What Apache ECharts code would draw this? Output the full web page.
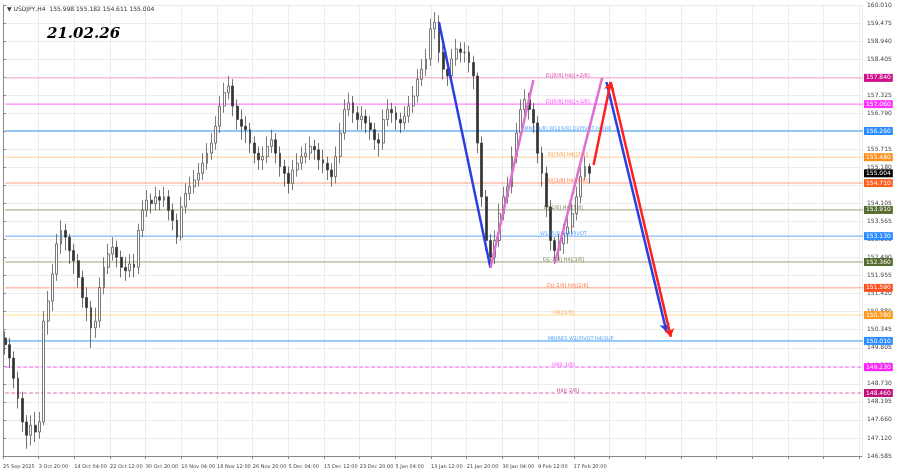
<!DOCTYPE html>
<html><head><meta charset="utf-8">
<script src="https://cdn.jsdelivr.net/npm/echarts@6/dist/echarts.min.js"></script>
<style>html,body{margin:0;padding:0;background:#fff}#c{width:900px;height:474px}</style>
</head><body><div id="c"></div>
<script>
const closes=[149.9,149.5,148.9,148.3,147.6,147.2,147.5,147.3,147.6,150.6,151.2,152.0,152.9,153.3,153.1,152.7,152.4,151.9,151.3,151.0,150.4,150.6,151.6,152.2,152.6,152.8,152.5,152.2,152.1,152.3,152.2,153.3,153.9,154.2,154.1,154.3,154.2,154.3,153.9,153.6,153.1,154.0,154.4,154.6,154.8,155.0,155.3,155.6,155.9,156.4,157.0,157.4,157.6,157.0,156.6,156.4,156.3,155.9,155.6,155.4,155.5,155.8,156.0,155.6,155.2,155.0,154.7,155.1,155.3,155.5,155.6,155.8,155.7,155.4,155.3,155.1,154.9,155.5,156.2,156.9,157.1,156.8,156.6,156.7,156.5,156.3,156.0,155.9,156.6,156.9,156.8,156.6,156.5,156.7,157.0,157.3,157.8,158.1,158.4,159.3,159.5,158.6,158.1,157.9,158.4,158.7,158.6,158.6,158.3,157.9,155.9,154.3,153.0,152.5,153.0,153.8,154.3,154.6,155.5,156.2,156.9,157.2,156.9,156.5,155.6,155.0,154.0,153.0,152.7,152.9,153.2,153.4,153.8,154.3,154.9,155.2,155.0];
const highs=[150.3,150.1,149.7,149.1,148.5,147.8,147.8,147.9,147.9,150.9,151.5,152.3,153.2,153.6,153.5,153.2,152.9,152.6,152.1,151.6,151.2,151.0,151.9,152.5,152.9,153.1,153.0,152.7,152.5,152.6,152.6,153.5,154.2,154.5,154.4,154.6,154.5,154.6,154.5,154.1,153.8,154.3,154.7,154.9,155.1,155.3,155.6,155.9,156.2,156.7,157.3,157.7,157.9,157.8,157.2,156.9,156.7,156.5,156.1,155.8,155.8,156.1,156.3,156.2,155.8,155.4,155.2,155.4,155.6,155.8,155.9,156.1,156.0,155.9,155.7,155.5,155.3,155.8,156.5,157.2,157.4,157.3,157.0,157.0,156.9,156.7,156.5,156.2,156.9,157.2,157.1,157.0,156.8,157.0,157.3,157.6,158.1,158.4,158.7,159.6,159.8,159.7,158.8,158.3,158.7,159.0,158.9,158.9,158.8,158.5,158.0,156.1,154.5,153.2,153.3,154.1,154.6,154.9,155.8,156.5,157.2,157.5,157.4,157.1,156.7,155.8,155.2,154.2,153.1,153.2,153.5,153.7,154.1,154.6,155.2,155.5,155.3];
const lows=[149.6,149.2,148.6,148.0,147.3,146.8,146.9,147.0,147.1,147.5,150.2,150.9,151.8,152.6,152.7,152.3,152.0,151.6,151.0,150.6,149.8,150.1,150.4,151.4,152.0,152.4,152.2,151.9,151.8,151.9,151.9,152.0,153.1,153.7,153.8,153.9,153.9,154.0,153.6,153.3,152.9,153.0,153.8,154.2,154.4,154.6,154.8,155.1,155.4,155.7,156.2,156.8,157.2,156.7,156.3,156.0,155.9,155.6,155.3,155.1,155.1,155.3,155.6,155.3,154.9,154.6,154.4,154.5,154.9,155.1,155.3,155.4,155.4,155.1,155.0,154.8,154.6,154.7,155.3,156.0,156.7,156.5,156.3,156.3,156.2,156.0,155.7,155.5,155.7,156.4,156.5,156.3,156.2,156.3,156.5,156.8,157.1,157.6,157.9,158.2,159.0,158.3,157.8,157.6,157.7,158.2,158.3,158.3,158.0,157.5,155.6,154.0,152.7,152.2,152.3,152.8,153.6,154.1,154.4,155.3,156.0,156.7,156.6,156.2,155.3,154.6,153.7,152.7,152.3,152.4,152.6,152.9,153.2,153.6,154.1,154.8,154.7];
const firstOpen=150.1;
const nCats=200;
const yTickLabels=['146.585','147.120','147.660','148.195','148.730','149.270','149.805','150.345','150.880','151.420','151.955','152.490','153.030','153.565','154.105','154.645','155.180','155.715','156.255','156.790','157.325','157.865','158.405','158.940','159.475','160.010'];
const xTickLabels=['25 Sep 2025','3 Oct 20:00','14 Oct 04:00','22 Oct 12:00','30 Oct 20:00','10 Nov 04:00','18 Nov 12:00','26 Nov 20:00','5 Dec 04:00','15 Dec 12:00','23 Dec 20:00','5 Jan 04:00','13 Jan 12:00','21 Jan 20:00','30 Jan 04:00','9 Feb 12:00','17 Feb 20:00'];
const levelValues=[157.84,157.06,156.26,155.48,154.71,153.91,153.13,152.36,151.59,150.78,150.01,149.23,148.46];
const levelLineColors=['#f5a0d0','#ff66ff','#3399ff','#ffd0a0','#ffa080','#a0a080','#66aaff','#a0a080','#ffa080','#ffd890','#3399ff','#ff66ff','#e070b0'];
const levelTagColors=['#d0108a','#ff33ff','#2a8cff','#ff9020','#ff6020','#556b2f','#2a8cff','#556b2f','#ff5020','#ff9a20','#2a8cff','#ff22ff','#c0107a'];
const levelTexts=['D|[8/8] H4|[+2/8]','D|[6/8] H4|[+1/8]','MN|[-1/8] W1|[6/8] D1PIVOT H4|RE','D|[3/8] H4|[7/8]','D|[2/8] H4|[6/8]','D|[1/8] H4|[5/8]','W1|[5/8] H4|PIVOT','D|[-1/8] H4|[3/8]','D|[-2/8] H4|[2/8]','H4|[1/8]','MN|RES W1|PIVOT H4|SUP','H4|[-1/8]','H4|[-2/8]'];
const levelTextColors=['#d0108a','#ff22ff','#2a8cff','#ff8000','#ff5020','#556b2f','#2a8cff','#556b2f','#ff5020','#ff9a20','#2a8cff','#ff22ff','#c0107a'];
const levelTextCat=[130.6,130.6,130.6,130.6,130.6,130.4,129.6,130.4,130.6,130.4,133.6,130.4,130.6];
const levelDashed=[false,false,false,false,false,false,false,false,false,false,false,true,true];
const lastPrice=155.004;
const blueDown1=[[100.9,159.50],[112.7,152.18]];
const pinkUp1=[[112.5,152.18],[122.9,157.78]];
const pinkUp2=[[127.8,152.33],[138.7,157.84]];
const redUp=[[136.9,155.25],[140.6,157.72]];
const redDown=[[140.6,157.72],[155.4,150.13]];
const blueDown2=[[139.6,157.72],[153.8,150.28]];

const cats=[];for(let i=0;i<nCats;i++)cats.push(i);
const ohlc=closes.map((c,i)=>[i===0?firstOpen:closes[i-1],c,lows[i],highs[i]]);
const yMin=146.585,yMax=160.010,yInt=(yMax-yMin)/25;
const tag=(v,bg)=>({yAxis:v,lineStyle:{color:'rgba(0,0,0,0)',width:0},label:{show:true,position:'end',distance:2,formatter:v.toFixed(3),backgroundColor:bg,color:'#fff',fontSize:6,padding:[1,2],fontFamily:'DejaVu Sans'}});
const tags=levelValues.map((v,i)=>tag(v,levelTagColors[i]));tags.push(tag(lastPrice,'#000'));
function seg(p,color,arrow){return [{coord:p[0],symbol:'none'},{coord:p[1],symbol:arrow?'arrow':'none',symbolSize:8,lineStyle:{color:color,width:2.5,type:'solid'}}];}
const levelSeries=levelValues.map((v,i)=>({type:'line',xAxisIndex:0,silent:true,symbol:'none',z:1,
  data:[[-0.5,v],[nCats-0.5,v]],lineStyle:{color:levelLineColors[i],width:1,type:levelDashed[i]?'dashed':'solid'}}));
const chart=echarts.init(document.getElementById('c'));
chart.setOption({
 animation:false,backgroundColor:'#fff',
 title:[{text:'21.02.26',left:42,top:22,textStyle:{fontSize:15,fontWeight:'bold',fontStyle:'italic',color:'#000',fontFamily:'DejaVu Serif'}},
        {text:'▼ USDJPY,H4  155.998 155.182 154.611 155.004',left:2,top:1,textStyle:{fontSize:6,fontWeight:'normal',color:'#333',fontFamily:'DejaVu Sans'}}],
 grid:{left:0,right:38,top:5,bottom:18},
 xAxis:[{type:'category',data:cats,show:false,boundaryGap:true},
  {type:'value',min:0,max:1204,interval:50,position:'bottom',axisLine:{show:true,lineStyle:{color:'#888'}},axisTick:{show:true,length:3,lineStyle:{color:'#888'}},
   axisLabel:{fontSize:5,color:'#444',align:'left',fontFamily:'DejaVu Sans',showMinLabel:true,showMaxLabel:false,hideOverlap:false,formatter:v=>xTickLabels[Math.round(v/50)]||''},
   splitLine:{show:true,lineStyle:{color:'#ececec'}}}],
 yAxis:{type:'value',position:'right',min:yMin,max:yMax,interval:yInt,
   axisLine:{show:true,lineStyle:{color:'#888'}},axisTick:{show:true,length:3,lineStyle:{color:'#888'}},
   axisLabel:{fontSize:6,color:'#444',fontFamily:'DejaVu Sans',margin:5,formatter:v=>yTickLabels[Math.round((v-yMin)/yInt)]||''},
   splitLine:{show:true,lineStyle:{color:'#ececec'}}},
 series:levelSeries.concat([
  {type:'candlestick',xAxisIndex:0,data:ohlc,barWidth:'55%',z:3,
   itemStyle:{color:'#ffffff',color0:'#333333',borderColor:'#444',borderColor0:'#333',borderWidth:0.7}},
  {type:'scatter',xAxisIndex:0,symbolSize:0,z:4,data:levelValues.map((v,i)=>({value:[levelTextCat[i],v],label:{color:levelTextColors[i]}})),
   label:{show:true,position:'top',distance:0,fontSize:5,fontFamily:'DejaVu Sans',formatter:p=>levelTexts[p.dataIndex]},
   labelLayout:{hideOverlap:false}},
  {type:'line',xAxisIndex:0,data:[],z:5,markLine:{silent:true,animation:false,symbol:'none',
   data:[seg(blueDown1,'#2a3fe0',false),seg(pinkUp1,'#e070d0',false),seg(pinkUp2,'#e070d0',false),
         seg(blueDown2,'#2a3fe0',true),seg(redUp,'#ff2020',true),seg(redDown,'#ff2020',true)]}},
  {type:'line',xAxisIndex:0,data:[],z:6,markLine:{silent:true,animation:false,symbol:'none',data:tags}}
 ])
});
</script></body></html>
